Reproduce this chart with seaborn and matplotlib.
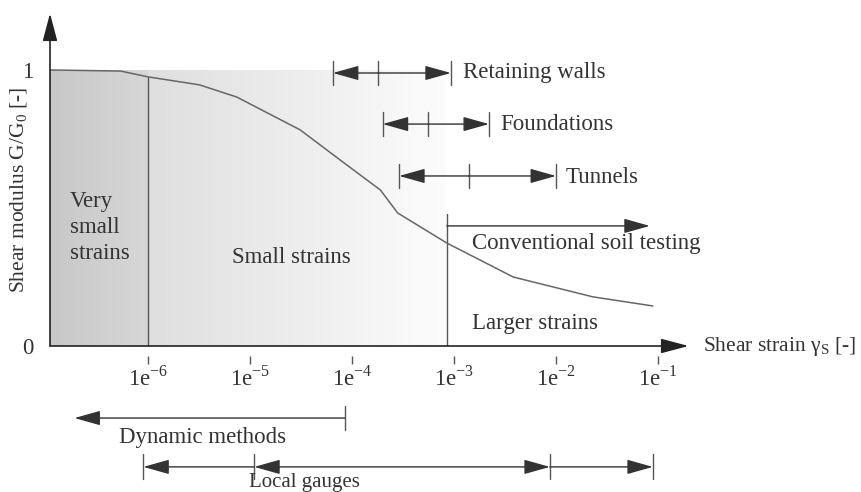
import numpy as np
import seaborn as sns
import matplotlib.pyplot as plt

# stiffness degradation curve G/G0 versus shear strain
strain = [1.1e-7, 5.4e-7, 1.0e-6, 3.2e-6, 7.4e-6, 3.1e-5, 8.1e-5, 1.9e-4,
          2.8e-4, 8.5e-4, 3.8e-3, 2.3e-2, 8.9e-2]
g_ratio = [1.0, 0.996, 0.975, 0.946, 0.902, 0.783, 0.667, 0.565,
           0.482, 0.373, 0.25, 0.178, 0.145]

# strain ranges of applications and test methods
retaining_walls = [6.5e-5, 1.8e-4, 9.3e-4]
foundations = [2.0e-4, 5.6e-4, 2.2e-3]
tunnels = [2.9e-4, 1.4e-3, 1.0e-2]
conventional = [8.5e-4, 8.3e-2]
dynamic_methods = [1.9e-7, 8.5e-5]
local_gauges = [9.0e-7, 1.1e-5, 8.7e-3, 8.9e-2]

very_small_limit = 1.0e-6
small_limit = 8.5e-4

tick_values = [1e-6, 1e-5, 1e-4, 1e-3, 1e-2, 1e-1]
tick_labels = [r"1e$^{\mathregular{-6}}$", r"1e$^{\mathregular{-5}}$", r"1e$^{\mathregular{-4}}$",
               r"1e$^{\mathregular{-3}}$", r"1e$^{\mathregular{-2}}$", r"1e$^{\mathregular{-1}}$"]

sns.set_style("white")
plt.rcParams["font.family"] = ["Liberation Serif", "DejaVu Serif"]
plt.rcParams["axes.unicode_minus"] = False

LINE = "#555555"
TXT = "#333333"
FS = 16.5

fig = plt.figure(figsize=(8.61, 4.92), dpi=100)
ax = fig.add_axes([50 / 861, 146 / 492, 633 / 861, 326 / 492])
ax.set_xscale("log")
xmin, xmax = 10 ** -6.961, 10 ** -0.755
ax.set_xlim(xmin, xmax)
ax.set_ylim(0, 1.181)
for s in ax.spines.values():
    s.set_visible(False)

# shaded zones
edges1 = np.logspace(np.log10(xmin), np.log10(very_small_limit), 40)
shade1 = np.linspace(0.78, 0.84, 39)
edges2 = np.logspace(np.log10(very_small_limit), np.log10(small_limit), 120)
shade2 = np.linspace(0.87, 0.985, 119)
ax.pcolormesh(edges1, [0, 1], shade1[None, :], cmap="gray", vmin=0, vmax=1, zorder=0)
ax.pcolormesh(edges2, [0, 1], shade2[None, :], cmap="gray", vmin=0, vmax=1, zorder=0)

sns.lineplot(x=strain, y=g_ratio, ax=ax, color="#666666", lw=1.1, zorder=3)

ax.plot([very_small_limit, very_small_limit], [0, 0.975], color=LINE, lw=1)
ax.plot([small_limit, small_limit], [0, 0.48], color=LINE, lw=1)

def arrow(x0, x1, y, style="-|>"):
    ax.annotate("", xy=(x1, y), xytext=(x0, y), annotation_clip=False,
                arrowprops=dict(arrowstyle=style + ",head_length=1.6,head_width=0.45",
                                color="#333333", lw=1, shrinkA=0, shrinkB=0,
                                mutation_scale=10))

def tick(x, y, h=0.045):
    ax.plot([x, x], [y - h, y + h], color=LINE, lw=1, clip_on=False)

def range_bar(vals, y):
    arrow(vals[1], vals[0], y)
    arrow(vals[1], vals[2], y)
    for v in vals:
        tick(v, y)

# axes with arrow heads
ax.annotate("", xy=(10 ** -0.70, 0), xytext=(xmin, 0), annotation_clip=False,
            arrowprops=dict(arrowstyle="-|>,head_length=1.7,head_width=0.45", color="#222222",
                            lw=1.2, shrinkA=0, shrinkB=0, mutation_scale=10))
ax.annotate("", xy=(xmin, 1.205), xytext=(xmin, 0), annotation_clip=False,
            arrowprops=dict(arrowstyle="-|>,head_length=1.7,head_width=0.45", color="#222222",
                            lw=1.2, shrinkA=0, shrinkB=0, mutation_scale=10))

range_bar(retaining_walls, 0.989)
range_bar(foundations, 0.804)
range_bar(tunnels, 0.616)
ax.text(10 ** -2.912, 0.989, "Retaining walls", fontsize=FS, color=TXT, va="center")
ax.text(10 ** -2.549, 0.804, "Foundations", fontsize=FS, color=TXT, va="center")
ax.text(10 ** -1.902, 0.612, "Tunnels", fontsize=FS, color=TXT, va="center")

arrow(conventional[0], conventional[1], 0.435)
ax.text(10 ** -2.824, 0.37, "Conventional soil testing", fontsize=FS, color=TXT, va="center")

ax.text(10 ** -6.765, 0.43, "Very\nsmall\nstrains", fontsize=FS, color=TXT, va="center",
        linespacing=1.3)
ax.text(10 ** -5.176, 0.319, "Small strains", fontsize=FS, color=TXT, va="center")
ax.text(10 ** -2.824, 0.083, "Larger strains", fontsize=FS, color=TXT, va="center")

# test methods below the axis
arrow(dynamic_methods[1], dynamic_methods[0], -0.261)
tick(dynamic_methods[1], -0.261)
ax.text(10 ** -5.461, -0.333, "Dynamic methods", fontsize=FS, color=TXT, ha="center", va="center")

arrow(local_gauges[1], local_gauges[0], -0.438)
arrow(local_gauges[2], local_gauges[1], -0.438, style="<|-|>")
arrow(local_gauges[2], local_gauges[3], -0.438)
for v in local_gauges:
    tick(v, -0.438)
ax.text(10 ** -4.47, -0.528, "Local gauges", fontsize=15, color=TXT, ha="center", va="bottom")

# ticks and labels
ax.spines["bottom"].set_position(("outward", 7))
ax.set_xticks(tick_values)
ax.set_xticks([], minor=True)
ax.set_xticklabels(tick_labels)
ax.set_yticks([0, 1])
ax.set_yticklabels(["0", "1"])
ax.tick_params(axis="x", direction="out", length=6, width=1, color=LINE, pad=1,
               labelsize=FS, labelcolor=TXT, bottom=True)
ax.tick_params(axis="y", length=0, pad=12, labelsize=FS, labelcolor=TXT)

ax.set_ylabel(r"Shear modulus G/G$_\mathregular{0}$ [-]", fontsize=15.5, color=TXT)
ax.yaxis.set_label_coords(-0.032, 0.48)
ax.text(10 ** -0.559, 0, r"Shear strain γ$_\mathregular{S}$ [-]", fontsize=15.5, color=TXT,
        va="center", ha="left", clip_on=False)

fig.savefig("out.png", dpi=100)
